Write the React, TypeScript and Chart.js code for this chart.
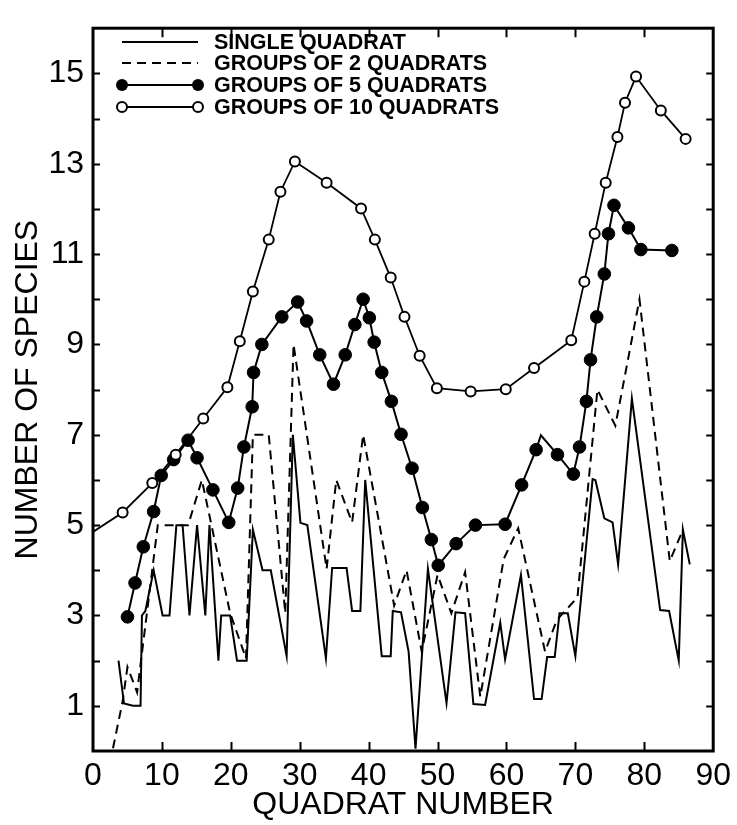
import React, { useEffect, useRef } from 'react';
import { Chart, registerables } from 'chart.js';

Chart.register(...registerables);

const FONT = '"Liberation Sans", Arial, Helvetica, sans-serif';

// Axis ticks
const xTickStep = 10;
const yTickStep = 1;
const yLabelled = [1, 3, 5, 7, 9, 11, 13, 15];

// Legend labels
const seriesLabels = [
  'SINGLE QUADRAT',
  'GROUPS OF 2 QUADRATS',
  'GROUPS OF 5 QUADRATS',
  'GROUPS OF 10 QUADRATS',
];

// Single quadrat (solid line)
const singleX = [3.7, 4.5, 5.8, 6.9, 7.1, 7.6, 8.8, 10.1, 11.1, 12.1, 13.0, 14.0, 15.1, 16.3, 16.9, 18.2, 18.6, 19.9, 20.9, 22.3, 23.2, 24.6, 25.8, 28.1, 29.0, 30.1, 31.1, 33.8, 34.7, 36.8, 37.6, 38.8, 39.5, 41.9, 43.2, 43.5, 44.7, 45.8, 46.8, 48.6, 51.3, 52.6, 54.0, 55.2, 56.9, 59.1, 59.8, 62.1, 64.0, 65.1, 65.9, 67.0, 67.7, 68.9, 70.0, 72.5, 72.9, 74.2, 75.4, 76.2, 78.2, 82.3, 83.6, 85.0, 85.6, 86.6];
const singleY = [2, 1.05, 1, 1, 3, 3.1, 4, 3, 3, 5, 5, 3, 5, 3, 5, 2, 3, 3, 2, 2, 4.9, 4, 4, 2.1, 7, 5.05, 5, 2.05, 4.05, 4.05, 3.1, 3.1, 6, 2.1, 2.1, 3.1, 3.07, 2.2, 0.05, 4.03, 1.06, 3.07, 3.05, 1.04, 1.02, 2.84, 2.03, 3.9, 1.15, 1.15, 2.08, 2.08, 3.05, 3.05, 2.1, 6.02, 6.0, 5.15, 5.06, 4.13, 7.8, 3.12, 3.1, 2.0, 4.9, 4.13];

// Groups of 2 quadrats (dashed line)
const pairX = [2.9, 4.3, 5.0, 6.4, 9.4, 13.8, 15.8, 19.9, 22.2, 23.2, 25.5, 27.9, 29.1, 33.9, 35.3, 37.6, 39.2, 43.7, 45.5, 47.7, 50.0, 52.0, 54.0, 56.2, 59.6, 61.7, 65.6, 67.3, 70.3, 73.2, 75.8, 79.3, 83.7, 85.6];
const pairY = [0.06, 1.1, 1.86, 1.3, 5, 5, 6, 3.05, 2.05, 7, 7, 3.05, 9, 4.03, 6, 5.06, 7, 3.22, 4, 2.2, 3.9, 3.05, 3.96, 1.2, 4.25, 4.93, 2.2, 2.9, 3.4, 8, 7.2, 10, 4.2, 4.9];

// Groups of 5 quadrats (filled circles)
const fiveX = [5.0, 6.1, 7.3, 8.8, 9.9, 11.7, 13.8, 15.1, 17.4, 19.7, 21.0, 21.9, 23.1, 23.3, 24.5, 27.4, 29.7, 31.0, 32.9, 34.9, 36.6, 38.0, 39.2, 40.1, 40.8, 41.9, 43.3, 44.7, 46.3, 47.8, 49.1, 50.1, 52.7, 55.5, 59.8, 62.2, 64.3, 65.0, 67.4, 69.7, 70.6, 71.6, 72.2, 73.1, 74.2, 74.8, 75.6, 77.7, 79.5, 84.0];
const fiveY = [2.97, 3.72, 4.52, 5.30, 6.10, 6.45, 6.88, 6.49, 5.78, 5.06, 5.82, 6.73, 7.62, 8.38, 9.00, 9.61, 9.94, 9.52, 8.77, 8.12, 8.77, 9.44, 10.0, 9.59, 9.05, 8.38, 7.74, 7.01, 6.26, 5.39, 4.68, 4.11, 4.59, 5.00, 5.02, 5.89, 6.67, 6.99, 6.56, 6.13, 6.73, 7.74, 8.66, 9.61, 10.56, 11.45, 12.08, 11.58, 11.10, 11.08];
const fiveUnmarked = [65.0];

// Groups of 10 quadrats (open circles)
const tenX = [0, 4.3, 8.6, 12.0, 16.0, 19.5, 21.3, 23.2, 25.5, 27.2, 29.3, 33.9, 38.9, 40.9, 43.2, 45.2, 47.4, 49.9, 54.8, 59.9, 64.0, 69.4, 71.3, 72.8, 74.4, 76.1, 77.2, 78.8, 82.4, 86.0];
const tenY = [4.85, 5.28, 5.93, 6.56, 7.36, 8.05, 9.07, 10.17, 11.32, 12.38, 13.05, 12.58, 12.01, 11.32, 10.48, 9.61, 8.75, 8.03, 7.96, 8.01, 8.48, 9.09, 10.39, 11.45, 12.58, 13.59, 14.35, 14.93, 14.18, 13.55];
const tenUnmarked = [0];

const pts = (xs: number[], ys: number[]) => xs.map((x, i) => ({ x, y: ys[i] }));

const framePlugin = {
  id: 'frame',
  afterDraw(chart: any) {
    const { ctx, chartArea: a, scales } = chart;
    const xs = scales.x;
    const ys = scales.y;
    ctx.save();
    ctx.strokeStyle = '#000';
    ctx.lineWidth = 2;
    ctx.beginPath();
    for (let v = yTickStep; v < ys.max; v += yTickStep) {
      const p = Math.round(ys.getPixelForValue(v)) + 0.5;
      ctx.moveTo(a.left, p); ctx.lineTo(a.left + 7, p);
      ctx.moveTo(a.right, p); ctx.lineTo(a.right - 7, p);
    }
    for (let v = xTickStep; v < xs.max; v += xTickStep) {
      const p = Math.round(xs.getPixelForValue(v)) + 0.5;
      ctx.moveTo(p, a.top); ctx.lineTo(p, a.top + 9);
      ctx.moveTo(p, a.bottom); ctx.lineTo(p, a.bottom - 9);
    }
    ctx.stroke();
    ctx.lineWidth = 3;
    ctx.strokeRect(a.left, a.top, a.right - a.left, a.bottom - a.top);
    ctx.restore();
  },
};

const legendPlugin = {
  id: 'innerLegend',
  afterDraw(chart: any) {
    const { ctx } = chart;
    const rowsY = [42, 63, 85, 107];
    const x1 = 122;
    const x2 = 198;
    const tx = 214;
    ctx.save();
    ctx.strokeStyle = '#000';
    ctx.fillStyle = '#000';
    rowsY.forEach((y, i) => {
      ctx.beginPath();
      ctx.lineWidth = 2;
      ctx.setLineDash(i === 1 ? [9, 6] : []);
      ctx.moveTo(x1, y);
      ctx.lineTo(x2, y);
      ctx.stroke();
      ctx.setLineDash([]);
      if (i === 2) {
        [x1, x2].forEach((cx) => {
          ctx.beginPath();
          ctx.arc(cx, y, 6, 0, Math.PI * 2);
          ctx.fillStyle = '#000';
          ctx.fill();
        });
      }
      if (i === 3) {
        [x1, x2].forEach((cx) => {
          ctx.beginPath();
          ctx.arc(cx, y, 5, 0, Math.PI * 2);
          ctx.fillStyle = '#fff';
          ctx.fill();
          ctx.lineWidth = 2;
          ctx.stroke();
        });
      }
      ctx.fillStyle = '#000';
      ctx.font = `bold 21.5px ${FONT}`;
      ctx.textBaseline = 'middle';
      ctx.textAlign = 'left';
      ctx.fillText(seriesLabels[i], tx, y + 1);
    });
    ctx.restore();
  },
};

export default function App() {
  const ref = useRef<HTMLCanvasElement>(null);
  useEffect(() => {
    document.body.style.margin = '0';
    const canvas = ref.current!;
    const chart = new Chart(canvas, {
      type: 'line',
      data: {
        datasets: [
          {
            label: seriesLabels[3],
            data: pts(tenX, tenY),
            borderColor: '#000',
            borderWidth: 1.8,
            pointRadius: (c: any) => (tenUnmarked.includes(tenX[c.dataIndex]) ? 0 : 5),
            pointBackgroundColor: '#fff',
            pointBorderColor: '#000',
            pointBorderWidth: 2,
            tension: 0,
            order: 0,
          },
          {
            label: seriesLabels[2],
            data: pts(fiveX, fiveY),
            borderColor: '#000',
            borderWidth: 2,
            pointRadius: (c: any) => (fiveUnmarked.includes(fiveX[c.dataIndex]) ? 0 : 6.3),
            pointBackgroundColor: '#000',
            pointBorderColor: '#000',
            pointBorderWidth: 1,
            tension: 0,
            order: 1,
          },
          {
            label: seriesLabels[0],
            data: pts(singleX, singleY),
            borderColor: '#000',
            borderWidth: 2,
            pointRadius: 0,
            tension: 0,
            order: 2,
          },
          {
            label: seriesLabels[1],
            data: pts(pairX, pairY),
            borderColor: '#000',
            borderWidth: 2,
            borderDash: [9, 6],
            pointRadius: 0,
            tension: 0,
            order: 3,
          },
        ],
      },
      options: {
        animation: false,
        responsive: false,
        devicePixelRatio: 1,
        layout: { padding: { top: 14, right: 20, left: 0, bottom: 0 } },
        plugins: { legend: { display: false }, tooltip: { enabled: false } },
        scales: {
          x: {
            type: 'linear',
            position: 'bottom',
            min: 0,
            max: 90,
            ticks: {
              stepSize: xTickStep,
              autoSkip: false,
              maxRotation: 0,
              padding: 6,
              color: '#000',
              font: { family: FONT, size: 32 },
            },
            grid: { display: false, drawTicks: false },
            border: { display: false },
            title: {
              display: true,
              text: 'QUADRAT NUMBER',
              color: '#000',
              font: { family: FONT, size: 32 },
              padding: { top: 0, bottom: 1 },
            },
            afterFit: (s: any) => { s.height = 74; },
          },
          y: {
            type: 'linear',
            position: 'left',
            min: 0,
            max: 16,
            ticks: {
              stepSize: yTickStep,
              autoSkip: false,
              padding: 9,
              color: '#000',
              font: { family: FONT, size: 32 },
              callback: (v: any) => (yLabelled.includes(Number(v)) ? String(v) : ''),
            },
            grid: { display: false, drawTicks: false },
            border: { display: false },
            title: {
              display: true,
              text: 'NUMBER OF SPECIES',
              color: '#000',
              font: { family: FONT, size: 32 },
              padding: { top: 9, bottom: 0 },
            },
            afterFit: (s: any) => { s.width = 93; },
          },
        },
      },
      plugins: [framePlugin, legendPlugin],
    } as any);
    return () => chart.destroy();
  }, []);
  return <canvas ref={ref} width={737} height={825} style={{ display: 'block' }} />;
}
